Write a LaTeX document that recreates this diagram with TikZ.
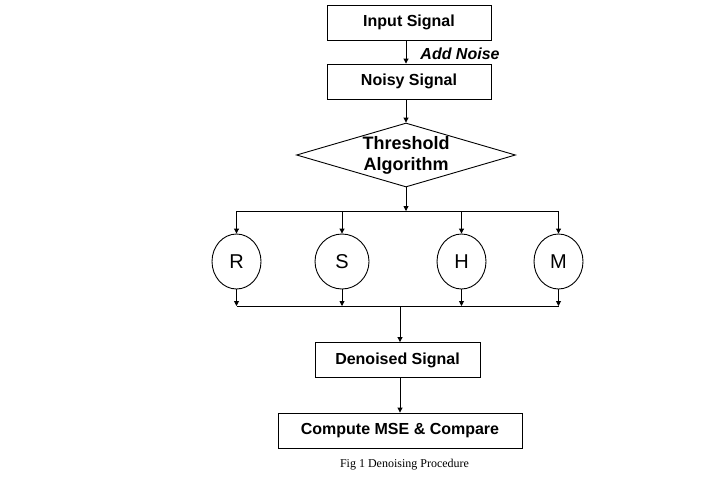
\documentclass[tikz,border=0pt]{standalone}
\usepackage{fontspec}
\setmainfont{Liberation Sans}
\newfontfamily\capfont{Liberation Serif}
\usetikzlibrary{shapes.geometric,arrows.meta}
\begin{document}
\begin{tikzpicture}[x=1pt,y=-1pt,
 line width=0.9pt,
 box/.style={draw, rectangle, inner sep=0pt, minimum height=35pt, font=\fontsize{16}{19}\selectfont\bfseries},
 circ/.style={draw, ellipse, inner sep=0pt, minimum width=49pt, minimum height=55pt, font=\fontsize{20}{24}\selectfont},
 arr/.style={-{Triangle[length=5pt,width=5pt]}}]
\useasboundingbox (0,0) rectangle (719,483);
\node[box, minimum width=164pt] (in) at (409,22.5) {Input Signal};
\node[box, minimum width=164pt] (noisy) at (409,81.5) {Noisy Signal};
\node[draw, diamond, aspect=3.4, inner sep=0pt, minimum width=219pt, minimum height=64pt] (th) at (406,155) {};
\node[align=center, inner sep=0pt, font=\fontsize{18}{21}\selectfont\bfseries] (thtext) at (th) {Threshold\\Algorithm};
\node[font=\fontsize{16}{19}\selectfont\bfseries\itshape] (addn) at (460,54) {Add Noise};
\node[circ] (r) at (236.5,261.5) {R};
\node[circ, minimum width=54pt] (s) at (342,261.5) {S};
\node[circ] (h) at (461.5,261.5) {H};
\node[circ] (m) at (558.5,261.5) {M};
\node[box, minimum width=165pt] (den) at (397.5,360) {Denoised Signal};
\node[box, minimum width=244pt] (cmp) at (400,430.5) {Compute MSE \& Compare};
\node[font=\capfont\fontsize{12}{14}\selectfont] (cap) at (404.5,465) {Fig 1 Denoising Procedure};
\coordinate (bt) at (406,211);
\coordinate (lb) at (400,306);
\draw[arr] (in.south -| th) -- (noisy.north -| th);
\draw[arr] (noisy.south -| th) -- (th.north);
\draw[arr] (th.south) -- (bt);
\draw (r |- bt) -- (m |- bt);
\foreach \c in {r,s,h,m}{
  \draw[arr] (\c |- bt) -- (\c.north);
  \draw[arr] (\c.south) -- (\c |- lb);
}
\draw (r |- lb) -- (m |- lb);
\draw[arr] (lb) -- (lb |- den.north);
\draw[arr] (den.south -| lb) -- (cmp.north -| lb);
\end{tikzpicture}
\end{document}
